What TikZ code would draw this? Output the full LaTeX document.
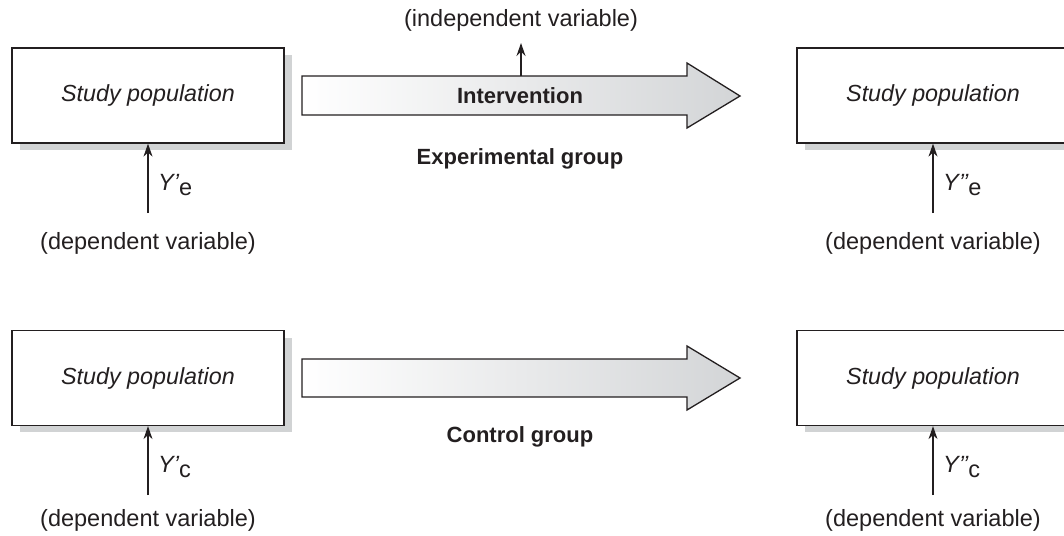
\documentclass[tikz,border=0pt]{standalone}
\usepackage{fontspec}
\setmainfont{Liberation Sans}
\usetikzlibrary{arrows.meta}
\definecolor{ink}{HTML}{231F20}
\definecolor{shadowgray}{HTML}{D1D3D4}
\definecolor{arrowgray}{HTML}{D3D5D7}
\tikzset{
  popbox/.style={draw=ink, line width=1.3pt, fill=white, minimum width=272pt, minimum height=95pt,
     inner sep=0pt, font=\fontsize{23.3}{27}\selectfont\itshape, text=ink},
  boxshadow/.style={fill=shadowgray, draw=none},
  lbl/.style={font=\fontsize{23.5}{27}\selectfont, text=ink, inner sep=1pt},
  bold lbl/.style={font=\fontsize{22}{26}\selectfont\bfseries, text=ink, inner sep=1pt},
  uparrow/.style={draw=ink, line width=1.2pt, -{Stealth[length=13pt,width=9pt]}},
  bigarrow/.style={draw=ink, line width=1.3pt, left color=white, right color=arrowgray}
}
\newcommand{\Ylab}[2]{{\itshape Y#1}\raisebox{-0.35ex}{#2}}
\begin{document}
\begin{tikzpicture}[x=1pt,y=-1pt]
\useasboundingbox (0,0) rectangle (1064,535);
\clip (0,0) rectangle (1064,535);
% shadows
\fill[shadowgray] (20,55) rectangle (292,150);
\fill[shadowgray] (805,55) rectangle (1077,150);
\fill[shadowgray] (20,338) rectangle (292,432);
\fill[shadowgray] (805,338) rectangle (1077,432);
% boxes
\node[popbox] (eL) at (148,95.5) {Study population};
\node[popbox] (eR) at (933,95.5) {Study population};
\node[popbox] (cL) at (148,378) {Study population};
\node[popbox] (cR) at (933,378) {Study population};
% big arrows
\draw[bigarrow] (302,76) -- (687,76) -- (687,63) -- (740,96) -- (687,128) -- (687,115) -- (302,115) -- cycle;
\draw[bigarrow] (302,359) -- (687,359) -- (687,346) -- (740,378) -- (687,410) -- (687,397) -- (302,397) -- cycle;
\node[bold lbl] (interv) at (520,96) {Intervention};
\node[bold lbl] (expg) at (520,159) {Experimental group};
\node[bold lbl] (ctrlg) at (520,437) {Control group};
% independent variable
\coordinate (shafttop) at (521,76);
\node[lbl] (indep) at (521,20) {(independent variable)};
\draw[uparrow] (shafttop) -- (521,43);
% dependent variable labels
\node[lbl] (depeL) at (148,243) {(dependent variable)};
\node[lbl] (depeR) at (933,243) {(dependent variable)};
\node[lbl] (depcL) at (148,520) {(dependent variable)};
\node[lbl] (depcR) at (933,520) {(dependent variable)};
\coordinate (seL) at (148,213);
\coordinate (seR) at (933,213);
\coordinate (scL) at (148,495);
\coordinate (scR) at (933,495);
\draw[uparrow] (seL) -- (eL.south);
\draw[uparrow] (seR) -- (eR.south);
\draw[uparrow] (scL) -- (cL.south);
\draw[uparrow] (scR) -- (cR.south);
\node[lbl, anchor=west] (yeL) at (157,185) {\Ylab{’}{e}};
\node[lbl, anchor=west] (yeR) at (942,185) {\Ylab{’’}{e}};
\node[lbl, anchor=west] (ycL) at (157,467) {\Ylab{’}{c}};
\node[lbl, anchor=west] (ycR) at (942,467) {\Ylab{’’}{c}};
\end{tikzpicture}
\end{document}
